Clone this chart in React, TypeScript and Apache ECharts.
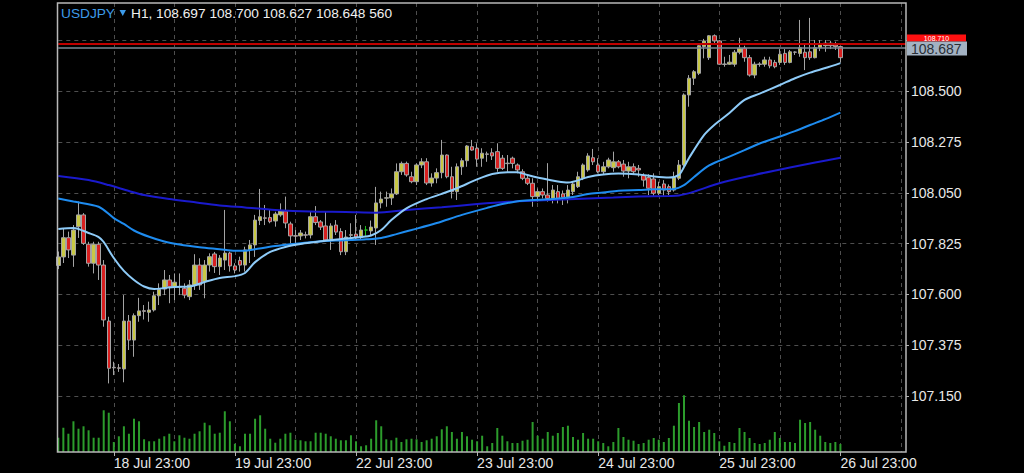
import React, { useEffect, useRef } from "react";
import * as echarts from "echarts";

const FONT = "'Liberation Sans', Arial, Helvetica, sans-serif";

// ---- categories (H1 bars) ----
const dayLabels = ["18 Jul", "19 Jul", "22 Jul", "23 Jul", "24 Jul", "25 Jul", "26 Jul"];
const firstDayStartHour = 12;
const emptySlotsAfter = 13;

// ---- OHLC ----
const opens = [
  107.728, 107.766, 107.851, 107.774, 107.900, 107.952, 107.822, 107.738, 107.822, 107.730,
  107.482, 107.277, 107.275, 107.270, 107.482, 107.398, 107.506, 107.528, 107.521, 107.531,
  107.594, 107.624, 107.664, 107.634, 107.633, 107.627, 107.590, 107.642, 107.730, 107.656,
  107.730, 107.779, 107.723, 107.752, 107.783, 107.726, 107.750, 107.730, 107.797, 107.819,
  107.927, 107.939, 107.940, 107.925, 107.952, 107.969, 107.912, 107.860, 107.859, 107.864,
  107.863, 107.944, 107.921, 107.903, 107.845, 107.907, 107.878, 107.789, 107.862, 107.867,
  107.854, 107.885, 107.881, 107.894, 108.005, 108.026, 108.027, 108.045, 108.143, 108.180,
  108.121, 108.099, 108.173, 108.187, 108.093, 108.115, 108.139, 108.217, 108.121, 108.055,
  108.165, 108.192, 108.254, 108.247, 108.203, 108.222, 108.227, 108.232, 108.203, 108.181,
  108.203, 108.173, 108.143, 108.114, 108.092, 108.033, 108.055, 108.040, 108.025, 108.055,
  108.045, 108.027, 108.055, 108.077, 108.115, 108.151, 108.205, 108.173, 108.143, 108.165,
  108.161, 108.187, 108.177, 108.146, 108.165, 108.158, 108.126, 108.117, 108.111, 108.048,
  108.089, 108.077, 108.062, 108.114, 108.173, 108.483, 108.557, 108.579, 108.697, 108.648,
  108.745, 108.722, 108.620, 108.619, 108.619, 108.672, 108.690, 108.648, 108.571, 108.620,
  108.619, 108.638, 108.627, 108.627, 108.667, 108.627, 108.673, 108.667, 108.672, 108.674,
  108.648, 108.692, 108.701, 108.712, 108.704, 108.697,
];
const highs = [
  107.790, 107.894, 107.878, 107.907, 108.011, 107.960, 107.833, 107.833, 107.833, 107.752,
  107.501, 107.302, 107.292, 107.597, 107.509, 107.516, 107.585, 107.553, 107.568, 107.612,
  107.649, 107.708, 107.686, 107.693, 107.693, 107.649, 107.664, 107.778, 107.760, 107.752,
  107.782, 107.788, 107.774, 107.974, 107.789, 107.738, 107.767, 107.811, 107.841, 107.952,
  108.067, 107.996, 107.974, 107.966, 108.003, 108.033, 107.922, 107.885, 107.885, 107.878,
  107.966, 107.991, 107.929, 107.966, 107.915, 107.929, 107.893, 107.885, 107.915, 107.952,
  107.907, 107.903, 107.927, 108.076, 108.055, 108.055, 108.069, 108.180, 108.188, 108.188,
  108.143, 108.180, 108.203, 108.203, 108.136, 108.158, 108.284, 108.220, 108.165, 108.180,
  108.203, 108.261, 108.284, 108.269, 108.247, 108.232, 108.247, 108.269, 108.217, 108.217,
  108.210, 108.180, 108.154, 108.129, 108.114, 108.069, 108.069, 108.181, 108.084, 108.084,
  108.060, 108.084, 108.099, 108.143, 108.180, 108.225, 108.244, 108.203, 108.187, 108.205,
  108.232, 108.195, 108.195, 108.187, 108.180, 108.173, 108.136, 108.132, 108.136, 108.099,
  108.106, 108.087, 108.143, 108.195, 108.490, 108.571, 108.593, 108.712, 108.731, 108.748,
  108.751, 108.726, 108.652, 108.660, 108.682, 108.736, 108.701, 108.660, 108.630, 108.628,
  108.652, 108.652, 108.638, 108.686, 108.686, 108.682, 108.676, 108.815, 108.712, 108.824,
  108.726, 108.726, 108.726, 108.722, 108.719, 108.700,
];
const lows = [
  107.712, 107.739, 107.761, 107.722, 107.850, 107.819, 107.723, 107.693, 107.664, 107.457,
  107.206, 107.243, 107.257, 107.211, 107.354, 107.324, 107.479, 107.489, 107.479, 107.524,
  107.553, 107.597, 107.561, 107.575, 107.597, 107.583, 107.575, 107.620, 107.620, 107.583,
  107.701, 107.695, 107.686, 107.708, 107.701, 107.693, 107.701, 107.701, 107.739, 107.766,
  107.907, 107.907, 107.915, 107.900, 107.944, 107.893, 107.826, 107.826, 107.841, 107.848,
  107.848, 107.907, 107.885, 107.833, 107.797, 107.863, 107.774, 107.774, 107.841, 107.841,
  107.841, 107.859, 107.863, 107.819, 107.981, 107.988, 107.996, 108.040, 108.129, 108.121,
  108.092, 108.084, 108.159, 108.084, 108.077, 108.092, 108.114, 108.114, 108.025, 108.018,
  108.129, 108.165, 108.236, 108.165, 108.165, 108.187, 108.195, 108.143, 108.151, 108.143,
  108.158, 108.136, 108.106, 108.084, 107.988, 108.011, 108.025, 108.011, 108.003, 108.003,
  107.996, 108.003, 108.040, 108.071, 108.106, 108.143, 108.173, 108.136, 108.129, 108.158,
  108.143, 108.158, 108.121, 108.114, 108.129, 108.121, 108.077, 108.040, 108.037, 108.040,
  108.037, 108.040, 108.055, 108.106, 108.165, 108.431, 108.527, 108.571, 108.645, 108.638,
  108.712, 108.616, 108.608, 108.616, 108.608, 108.663, 108.630, 108.564, 108.557, 108.608,
  108.608, 108.601, 108.601, 108.616, 108.616, 108.623, 108.660, 108.652, 108.593, 108.638,
  108.645, 108.677, 108.674, 108.686, 108.682, 108.627,
];
const closes = [
  107.766, 107.851, 107.797, 107.885, 107.952, 107.826, 107.738, 107.822, 107.730, 107.487,
  107.273, 107.275, 107.273, 107.482, 107.398, 107.506, 107.527, 107.525, 107.531, 107.594,
  107.622, 107.664, 107.634, 107.654, 107.635, 107.597, 107.642, 107.730, 107.642, 107.730,
  107.767, 107.723, 107.761, 107.783, 107.726, 107.708, 107.730, 107.797, 107.819, 107.929,
  107.944, 107.937, 107.922, 107.956, 107.969, 107.916, 107.859, 107.858, 107.872, 107.862,
  107.944, 107.918, 107.898, 107.841, 107.903, 107.876, 107.789, 107.854, 107.864, 107.854,
  107.885, 107.885, 107.898, 108.005, 108.022, 108.028, 108.045, 108.143, 108.180, 108.129,
  108.099, 108.173, 108.187, 108.093, 108.115, 108.139, 108.217, 108.121, 108.055, 108.165,
  108.192, 108.257, 108.239, 108.199, 108.225, 108.220, 108.213, 108.158, 108.158, 108.179,
  108.180, 108.151, 108.114, 108.092, 108.033, 108.055, 108.040, 108.025, 108.062, 108.025,
  108.030, 108.062, 108.089, 108.121, 108.173, 108.213, 108.187, 108.143, 108.165, 108.195,
  108.187, 108.165, 108.146, 108.165, 108.143, 108.151, 108.106, 108.070, 108.048, 108.077,
  108.062, 108.055, 108.117, 108.173, 108.483, 108.557, 108.586, 108.701, 108.722, 108.745,
  108.722, 108.619, 108.618, 108.628, 108.672, 108.690, 108.648, 108.571, 108.619, 108.618,
  108.638, 108.612, 108.608, 108.663, 108.627, 108.674, 108.672, 108.692, 108.648, 108.648,
  108.692, 108.707, 108.712, 108.701, 108.697, 108.648,
];

// ---- tick volume ----
const volumes = [
  1000, 1700, 1280, 2150, 1630, 1800, 1520, 1000, 1000, 2920,
  2750, 700, 1100, 1800, 1280, 2330, 2150, 890, 750, 750,
  930, 1100, 1280, 750, 1170, 1000, 930, 1280, 1450, 2050,
  1870, 1280, 1350, 2850, 2150, 580, 400, 1280, 1280, 2330,
  2570, 1630, 930, 650, 930, 1280, 1350, 860, 820, 750,
  750, 1350, 1350, 1280, 1100, 930, 820, 820, 1170, 750,
  400, 470, 930, 2220, 1800, 890, 820, 1000, 700, 890,
  930, 890, 700, 820, 930, 1100, 1590, 1800, 1400, 930,
  1400, 1100, 860, 750, 1140, 400, 630, 1680, 1140, 750,
  630, 630, 790, 860, 2100, 1140, 930, 1400, 1140, 1330,
  1750, 1840, 1050, 860, 1330, 930, 930, 750, 630, 400,
  700, 1680, 1050, 860, 790, 560, 630, 860, 980, 860,
  700, 980, 1840, 3430, 3970, 2190, 1750, 2100, 1400, 1560,
  1330, 750, 440, 700, 630, 1680, 1400, 980, 630, 560,
  630, 860, 1400, 980, 700, 700, 630, 2260, 2030, 2100,
  1560, 1140, 700, 630, 700, 560,
];
const volumeAxisMax = 31430;

// ---- moving averages (read at sampled bars) ----
const maFastBars = [0, 3, 6, 8, 9, 11, 13, 15, 17, 19, 21, 23, 26, 29, 32, 35, 37, 39, 42, 45, 48, 51, 54, 57, 60, 62, 64, 66, 69, 73, 76, 79, 83, 86, 89, 91, 93, 96, 99, 101, 105, 108, 111, 115, 118, 121, 123, 124, 125, 128, 130, 133, 136, 139, 143, 146, 149, 152, 155];
const maFastValues = [107.890, 107.894, 107.872, 107.854, 107.832, 107.761, 107.704, 107.664, 107.635, 107.624, 107.628, 107.633, 107.635, 107.655, 107.673, 107.681, 107.695, 107.743, 107.788, 107.810, 107.823, 107.832, 107.841, 107.847, 107.854, 107.861, 107.885, 107.929, 107.981, 108.022, 108.045, 108.070, 108.109, 108.133, 108.141, 108.141, 108.129, 108.113, 108.100, 108.095, 108.120, 108.131, 108.135, 108.131, 108.122, 108.117, 108.129, 108.164, 108.204, 108.306, 108.350, 108.403, 108.461, 108.489, 108.527, 108.557, 108.582, 108.602, 108.624];
const maMidBars = [0, 3, 8, 11, 13, 15, 18, 21, 24, 28, 32, 35, 37, 39, 43, 46, 51, 55, 58, 61, 64, 67, 70, 75, 80, 85, 88, 92, 98, 102, 105, 108, 111, 115, 118, 122, 124, 126, 129, 133, 136, 139, 143, 146, 149, 152, 155];
const maMidValues = [108.025, 108.011, 107.988, 107.938, 107.912, 107.883, 107.855, 107.834, 107.821, 107.809, 107.800, 107.793, 107.793, 107.800, 107.814, 107.822, 107.833, 107.839, 107.841, 107.844, 107.850, 107.867, 107.885, 107.916, 107.952, 107.983, 108.000, 108.015, 108.022, 108.031, 108.045, 108.051, 108.059, 108.062, 108.065, 108.067, 108.084, 108.120, 108.171, 108.210, 108.239, 108.268, 108.299, 108.323, 108.350, 108.376, 108.405];
const maSlowBars = [0, 6, 10, 14, 17, 22, 26, 32, 37, 43, 50, 57, 63, 69, 76, 83, 89, 95, 100, 105, 110, 115, 121, 123, 126, 131, 138, 145, 150, 155];
const maSlowValues = [108.124, 108.106, 108.084, 108.058, 108.040, 108.022, 108.011, 107.994, 107.985, 107.974, 107.967, 107.965, 107.962, 107.974, 107.986, 108.000, 108.010, 108.016, 108.020, 108.025, 108.029, 108.033, 108.036, 108.038, 108.055, 108.092, 108.129, 108.162, 108.184, 108.205];

// ---- price lines / header ----
const askLevel = 108.71;
const bidLevel = 108.687;
const symbolName = "USDJPY";
const headerText = "H1, 108.697 108.700 108.627 108.648 560";
const priceAxisMin = 106.925;
const priceAxisMax = 108.89;
const priceStep = 0.225;

function buildCategories(): string[] {
  const cats: string[] = [];
  dayLabels.forEach((d, di) => {
    const start = di === 0 ? firstDayStartHour : 0;
    for (let h = start; h < 24; h++) cats.push(`${d} ${String(h).padStart(2, "0")}:00`);
  });
  for (let k = 0; k < emptySlotsAfter; k++) cats.push("");
  return cats;
}

export default function App() {
  const ref = useRef<HTMLDivElement>(null);
  useEffect(() => {
    if (!ref.current) return;
    const chart = echarts.init(ref.current, null, { renderer: "svg" });
    const categories = buildCategories();
    const firstLabelIdx = 24 - firstDayStartHour - 1;
    const realCount = opens.length;
    const labelInterval = (i: number) => i >= firstLabelIdx && i < realCount && (i - firstLabelIdx) % 24 === 0;
    const gridInterval = (i: number) => i >= firstLabelIdx && (i - firstLabelIdx) % 12 === 0;
    const candleData = opens.map((o, i) => [o, closes[i], lows[i], highs[i]]);
    const pairs = (b: number[], v: number[]) => b.map((x, i) => [x, v[i]]);
    const dash = { color: "#4e4e4e", type: [4, 4], width: 1 };

    chart.setOption({
      animation: false,
      backgroundColor: "#000000",
      textStyle: { fontFamily: FONT },
      grid: [
        { left: 58.3, right: 118, top: 3, bottom: 21 },
        { left: 58.3, right: 118, top: 3, bottom: 26.1 },
      ],
      xAxis: [
        {
          type: "category", gridIndex: 0, data: categories, boundaryGap: false,
          axisLine: { show: false },
          axisTick: { show: true, interval: labelInterval, length: 4, lineStyle: { color: "#b0b0b0" } },
          axisLabel: { interval: labelInterval, align: "left", margin: 4, color: "#e8e8e8", fontSize: 14, fontFamily: FONT },
          splitLine: { show: true, interval: gridInterval, lineStyle: dash },
        },
        { type: "category", gridIndex: 1, data: categories, boundaryGap: false, show: false },
      ],
      yAxis: [
        { type: "value", gridIndex: 0, min: 0, max: volumeAxisMax, show: false, splitLine: { show: false } },
        {
          type: "value", gridIndex: 1, position: "right", min: priceAxisMin, max: priceAxisMax, interval: priceStep,
          axisLine: { show: false },
          axisTick: { show: true, length: 3, lineStyle: { color: "#b0b0b0" } },
          axisLabel: {
            margin: 5, color: "#e8e8e8", fontSize: 14, fontFamily: FONT,
            showMinLabel: false, showMaxLabel: false,
            // the top level's label sits under the price boxes in the terminal
            formatter: (v: number) => (v > askLevel ? "" : v.toFixed(3)),
          },
          splitLine: { show: true, showMinLine: false, showMaxLine: false, lineStyle: dash },
        },
      ],
      series: [
        {
          type: "bar", xAxisIndex: 0, yAxisIndex: 0, data: volumes, barWidth: 2,
          itemStyle: { color: "#2c9c2c" }, z: 1, silent: true,
        },
        {
          type: "candlestick", xAxisIndex: 1, yAxisIndex: 1, data: candleData, barWidth: 4, z: 2,
          itemStyle: {
            color: "#c8c844", color0: "#d82020",
            borderColor: "#a4a4a4", borderColor0: "#a4a4a4", borderColorDoji: "#20c020", borderWidth: 1,
          },
          markLine: {
            silent: true, symbol: ["none", "none"], label: { show: false },
            data: [
              { yAxis: askLevel, lineStyle: { color: "#c00000", width: 2, type: "solid" } },
              { yAxis: bidLevel, lineStyle: { color: "#7a8794", width: 1.5, type: "solid" } },
            ],
          },
        },
        {
          type: "line", xAxisIndex: 1, yAxisIndex: 1, data: pairs(maSlowBars, maSlowValues),
          showSymbol: false, smooth: 0.3, lineStyle: { color: "#1a1acd", width: 2 }, z: 3,
        },
        {
          type: "line", xAxisIndex: 1, yAxisIndex: 1, data: pairs(maMidBars, maMidValues),
          showSymbol: false, smooth: 0.3, lineStyle: { color: "#1e8cf0", width: 2 }, z: 3,
        },
        {
          type: "line", xAxisIndex: 1, yAxisIndex: 1, data: pairs(maFastBars, maFastValues),
          showSymbol: false, smooth: 0.3, lineStyle: { color: "#8ecbf8", width: 2 }, z: 4,
        },
      ],
      graphic: [
        {
          type: "rect", z: 50, silent: true,
          shape: { x: 57.5, y: 3, width: 848.5, height: 449 },
          style: { fill: "none", stroke: "#b8b8b8", lineWidth: 1.5 },
        },
        {
          type: "text", z: 60, x: 61, y: 13,
          style: { text: symbolName, fill: "#3d9be9", font: `13.7px ${FONT}`, verticalAlign: "middle", textVerticalAlign: "middle" },
        },
        {
          type: "polygon", z: 60,
          shape: { points: [[119.5, 10], [126, 10], [122.75, 16]] },
          style: { fill: "#3d9be9" },
        },
        {
          type: "text", z: 60, x: 131, y: 13,
          style: { text: headerText, fill: "#f0f0f0", font: `13.7px ${FONT}`, verticalAlign: "middle", textVerticalAlign: "middle" },
        },
        {
          type: "rect", z: 60, shape: { x: 907, y: 34.5, width: 59, height: 7 },
          style: { fill: "#ff1010" },
        },
        {
          type: "text", z: 61, x: 936.5, y: 38,
          style: { text: askLevel.toFixed(3), fill: "#ffffff", font: `7px ${FONT}`, align: "center", textAlign: "center", verticalAlign: "middle", textVerticalAlign: "middle" },
        },
        {
          type: "rect", z: 62, shape: { x: 907, y: 41.5, width: 60, height: 14 },
          style: { fill: "#a3b2c2" },
        },
        {
          type: "text", z: 63, x: 911, y: 48.5,
          style: { text: bidLevel.toFixed(3), fill: "#2a2f36", font: `14px ${FONT}`, verticalAlign: "middle", textVerticalAlign: "middle" },
        },
      ],
    });
    return () => chart.dispose();
  }, []);
  return (
    <div
      ref={ref}
      style={{ position: "fixed", left: 0, top: 0, width: 1024, height: 473, background: "#000" }}
    />
  );
}
